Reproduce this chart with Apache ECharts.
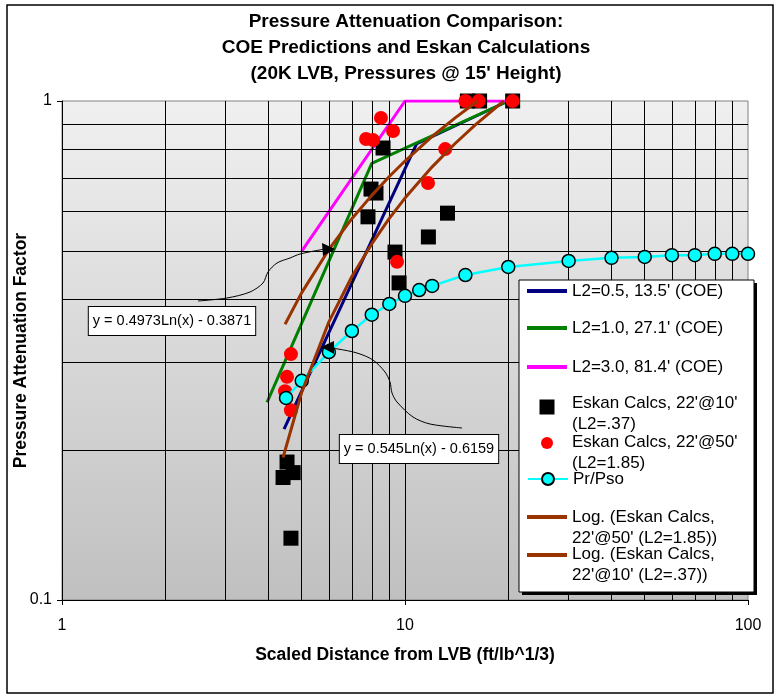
<!DOCTYPE html>
<html>
<head>
<meta charset="utf-8">
<script src="https://cdn.jsdelivr.net/npm/echarts@6/dist/echarts.min.js"></script>
<style>
html,body{margin:0;padding:0;background:#fff;}
#main{width:777px;height:698px;}
</style>
</head>
<body>
<div id="main"></div>
<script>
// COE prediction lines
var coe05X = [4.44, 10.8, 20];
var coe05Y = [0.22, 0.82, 1];
var coe10X = [3.96, 8.0, 20];
var coe10Y = [0.249, 0.75, 1];
var coe30X = [5, 10, 20];
var coe30Y = [0.5, 1, 1];
// Eskan calcs 22'@10' (squares)
var esk10X = [4.53, 4.72, 4.41, 4.65, 7.96, 8.23, 7.80, 9.35, 9.61, 13.3, 11.7, 8.63, 15.2, 16.5, 20.6];
var esk10Y = [0.189, 0.180, 0.176, 0.133, 0.666, 0.654, 0.586, 0.498, 0.432, 0.596, 0.534, 0.805, 1, 1, 1];
// Eskan calcs 22'@50' (red dots)
var esk50X = [4.65, 4.53, 4.47, 4.65, 9.48, 11.67, 8.51, 9.23, 7.70, 8.07, 13.1, 15.0, 16.4, 20.6];
var esk50Y = [0.311, 0.280, 0.262, 0.240, 0.476, 0.685, 0.925, 0.871, 0.839, 0.835, 0.801, 1, 1, 1];
// Pr/Pso
var prX = [4.5, 5, 6, 7, 8, 9, 10, 11, 12, 15, 20, 30, 40, 50, 60, 70, 80, 90, 100];
var prY = [0.254, 0.275, 0.314, 0.346, 0.373, 0.392, 0.407, 0.418, 0.426, 0.448, 0.465, 0.478, 0.485, 0.487, 0.491, 0.491, 0.494, 0.494, 0.494];
// log trend lines
var log50X = [4.47, 5, 6, 7, 8, 9, 10, 12, 14, 16.3];
var log50Y = [0.357, 0.413, 0.504, 0.581, 0.647, 0.706, 0.758, 0.849, 0.925, 1];
var log10X = [4.41, 5, 6, 7, 8, 9, 10, 12, 14, 16, 19.4];
var log10Y = [0.193, 0.261, 0.361, 0.445, 0.517, 0.582, 0.639, 0.738, 0.822, 0.895, 1];
// grid lines
var gridX = [2, 3, 4, 5, 6, 7, 8, 9, 10, 20, 30, 40, 50, 60, 70, 80, 90];
var gridY = [0.2, 0.3, 0.4, 0.5, 0.6, 0.7, 0.8, 0.9];

var names = [
	"L2=0.5, 13.5' (COE)",
	"L2=1.0, 27.1' (COE)",
	"L2=3.0, 81.4' (COE)",
	"Eskan Calcs, 22'@10' (L2=.37)",
	"Eskan Calcs, 22'@50' (L2=1.85)",
	"Pr/Pso",
	"Log. (Eskan Calcs, 22'@50' (L2=1.85))",
	"Log. (Eskan Calcs, 22'@10' (L2=.37))"
];
var labels = [
	"L2=0.5, 13.5' (COE)",
	"L2=1.0, 27.1' (COE)",
	"L2=3.0, 81.4' (COE)",
	"Eskan Calcs, 22'@10'\n(L2=.37)",
	"Eskan Calcs, 22'@50'\n(L2=1.85)",
	"Pr/Pso",
	"Log. (Eskan Calcs,\n22'@50' (L2=1.85))",
	"Log. (Eskan Calcs,\n22'@10' (L2=.37))"
];

function zip(xs, ys)
{
	var out = [];
	for (var i = 0; i < xs.length; i++) out.push([xs[i], ys[i]]);
	return out;
}

var FONT = 'Liberation Sans, Arial, sans-serif';

function lineSeries(name, xs, ys, color, z)
{
	return {
		name: name, type: 'line', data: zip(xs, ys), symbol: 'none', z: z,
		itemStyle: {color: color},
		lineStyle: {color: color, width: 3}
	};
}

var gridMarks = [];
for (var i = 0; i < gridX.length; i++) gridMarks.push({xAxis: gridX[i]});
for (var j = 0; j < gridY.length; j++) gridMarks.push({yAxis: gridY[j]});

var series = [
	{
		name: 'grid', type: 'line', data: [[1, 0.1]], symbol: 'none', z: 1, silent: true,
		lineStyle: {width: 0},
		markLine: {
			silent: true, symbol: ['none', 'none'], label: {show: false},
			lineStyle: {color: '#000', width: 1, type: 'solid'},
			emphasis: {disabled: true},
			data: gridMarks
		}
	},
	lineSeries(names[0], coe05X, coe05Y, '#000080', 3),
	lineSeries(names[1], coe10X, coe10Y, '#008000', 3),
	lineSeries(names[2], coe30X, coe30Y, '#ff00ff', 3),
	{
		name: names[3], type: 'scatter', data: zip(esk10X, esk10Y), symbol: 'rect', symbolSize: 15,
		clip: false, z: 4, itemStyle: {color: '#000', opacity: 1}
	},
	{
		name: names[4], type: 'scatter', data: zip(esk50X, esk50Y), symbol: 'circle', symbolSize: 14,
		clip: false, z: 5, itemStyle: {color: '#ff0000', opacity: 1}
	},
	{
		name: names[5], type: 'line', data: zip(prX, prY), symbol: 'circle', symbolSize: 13, showSymbol: true,
		z: 6, clip: false,
		itemStyle: {color: '#00ffff', borderColor: '#000', borderWidth: 1.5},
		lineStyle: {color: '#00ffff', width: 2.5}
	},
	lineSeries(names[6], log50X, log50Y, '#993300', 7),
	lineSeries(names[7], log10X, log10Y, '#993300', 7)
];

// legend: one component per row (icon and text split for the two-line rows)
var legends = [];
function addLegend(idx, opt)
{
	var item = {name: names[idx]};
	if (opt.icon) item.icon = opt.icon;
	var lg = {
		data: [item],
		left: opt.left,
		top: opt.top,
		padding: 0,
		itemWidth: opt.w,
		itemHeight: opt.h,
		symbolKeepAspect: false,
		selectedMode: false,
		z: 12,
		formatter: opt.text ? function(){ return labels[idx]; } : function(){ return ' '; },
		textStyle: {fontSize: 17, fontFamily: FONT, color: '#000', lineHeight: 21}
	};
	if (opt.hideIcon) lg.itemStyle = {opacity: 0};
	legends.push(lg);
}
// single-line rows: icon and text together (value = row centre)
addLegend(0, {left: 527, top: 291 - 10.5, w: 40, h: 4, icon: 'rect', text: true});
addLegend(1, {left: 527, top: 328 - 10.5, w: 40, h: 4, icon: 'rect', text: true});
addLegend(2, {left: 527, top: 367 - 10.5, w: 40, h: 4, icon: 'rect', text: true});
addLegend(5, {left: 527, top: 479 - 10.5, w: 40, h: 15, text: true});
// two-line rows: text block (top = first line centre - half line)
addLegend(3, {left: 527, top: 403 - 10.5, w: 40, h: 2, icon: 'rect', text: true, hideIcon: true});
addLegend(4, {left: 527, top: 442 - 10.5, w: 40, h: 2, icon: 'rect', text: true, hideIcon: true});
addLegend(6, {left: 527, top: 517 - 10.5, w: 40, h: 2, icon: 'rect', text: true, hideIcon: true});
addLegend(7, {left: 527, top: 554 - 10.5, w: 40, h: 2, icon: 'rect', text: true, hideIcon: true});
// two-line rows: icons
addLegend(3, {left: 539.5, top: 407 - 10.5, w: 15, h: 15, icon: 'rect'});
addLegend(4, {left: 541, top: 443 - 10.5, w: 12, h: 12, icon: 'circle'});
addLegend(6, {left: 527, top: 517 - 10.5, w: 40, h: 4, icon: 'rect'});
addLegend(7, {left: 527, top: 555 - 10.5, w: 40, h: 4, icon: 'rect'});

var nameStyle = {fontSize: 17.5, fontWeight: 'bold', fontFamily: FONT, color: '#000'};

var option = {
	animation: false,
	backgroundColor: '#fff',
	title: {
		text: "Pressure Attenuation Comparison:\nCOE Predictions and Eskan Calculations\n(20K LVB, Pressures @ 15' Height)",
		left: 401, top: 4, textAlign: 'center',
		textStyle: {fontSize: 19, fontWeight: 'bold', fontFamily: FONT, color: '#000', lineHeight: 26}
	},
	grid: {
		left: 62, right: 29, top: 101, bottom: 98, show: true,
		borderColor: '#808080', borderWidth: 1,
		backgroundColor: {
			type: 'linear', x: 0, y: 0, x2: 0, y2: 1,
			colorStops: [{offset: 0, color: '#f0f0f0'}, {offset: 1, color: '#c0c0c0'}]
		}
	},
	xAxis: {
		type: 'log', logBase: 10, min: 1, max: 100,
		name: 'Scaled Distance from LVB (ft/lb^1/3)',
		nameLocation: 'middle', nameGap: 46, nameMoveOverlap: false,
		nameTextStyle: nameStyle,
		axisLine: {show: true, lineStyle: {color: '#000', width: 1}},
		axisTick: {show: true, length: 5, lineStyle: {color: '#000'}},
		axisLabel: {fontSize: 16, fontFamily: FONT, color: '#000', margin: 18},
		splitLine: {show: false},
		minorTick: {show: false}
	},
	yAxis: {
		type: 'log', logBase: 10, min: 0.1, max: 1,
		name: 'Pressure Attenuation Factor',
		nameLocation: 'middle', nameGap: 32, nameMoveOverlap: false,
		nameTextStyle: nameStyle,
		axisLine: {show: true, lineStyle: {color: '#000', width: 1}},
		axisTick: {show: true, length: 5, lineStyle: {color: '#000'}},
		axisLabel: {fontSize: 16, fontFamily: FONT, color: '#000', margin: 10},
		splitLine: {show: false},
		minorTick: {show: false}
	},
	legend: legends,
	graphic: [
		// outer chart frame
		{type: 'rect', z: 100, silent: true, shape: {x: 7, y: 5, width: 766, height: 688},
			style: {fill: 'none', stroke: '#000', lineWidth: 1.5}},
		// legend box with shadow
		{type: 'rect', z: 11, silent: true, shape: {x: 522, y: 283, width: 235, height: 312},
			style: {fill: '#000'}},
		{type: 'rect', z: 11, silent: true, shape: {x: 519, y: 280, width: 235, height: 312},
			style: {fill: '#fff', stroke: '#000', lineWidth: 1}},
		// trendline equation labels
		{type: 'text', z: 10, silent: true, x: 172, y: 321,
			style: {text: 'y = 0.4973Ln(x) - 0.3871', fontSize: 14.5, fontFamily: FONT, fill: '#000',
				align: 'center', verticalAlign: 'middle', backgroundColor: '#fff',
				borderColor: '#000', borderWidth: 1, padding: [7, 4, 6, 4]}},
		{type: 'text', z: 10, silent: true, x: 419, y: 449,
			style: {text: 'y = 0.545Ln(x) - 0.6159', fontSize: 14.5, fontFamily: FONT, fill: '#000',
				align: 'center', verticalAlign: 'middle', backgroundColor: '#fff',
				borderColor: '#000', borderWidth: 1, padding: [7, 4, 6, 4]}},
		// arrows from the labels to the curves
		{type: 'polyline', z: 10, silent: true,
			shape: {points: [[198, 301], [227, 298], [250, 292], [263, 283], [268, 272], [277, 263], [290, 258], [300, 254], [325, 249]], smooth: 0.3},
			style: {fill: 'none', stroke: '#000', lineWidth: 1}},
		{type: 'polygon', z: 10, silent: true,
			shape: {points: [[335, 249], [322, 243], [323, 256]]}, style: {fill: '#000'}},
		{type: 'polyline', z: 10, silent: true,
			shape: {points: [[462, 428], [430, 424], [413, 417], [397, 402], [392, 393], [390, 382], [385, 372], [373, 360], [357, 353], [338, 349], [330, 348]], smooth: 0.3},
			style: {fill: 'none', stroke: '#000', lineWidth: 1}},
		{type: 'polygon', z: 10, silent: true,
			shape: {points: [[321, 347], [334, 341], [334, 354]]}, style: {fill: '#000'}}
	],
	series: series
};

var chart = echarts.init(document.getElementById('main'));
chart.setOption(option);
</script>
</body>
</html>
